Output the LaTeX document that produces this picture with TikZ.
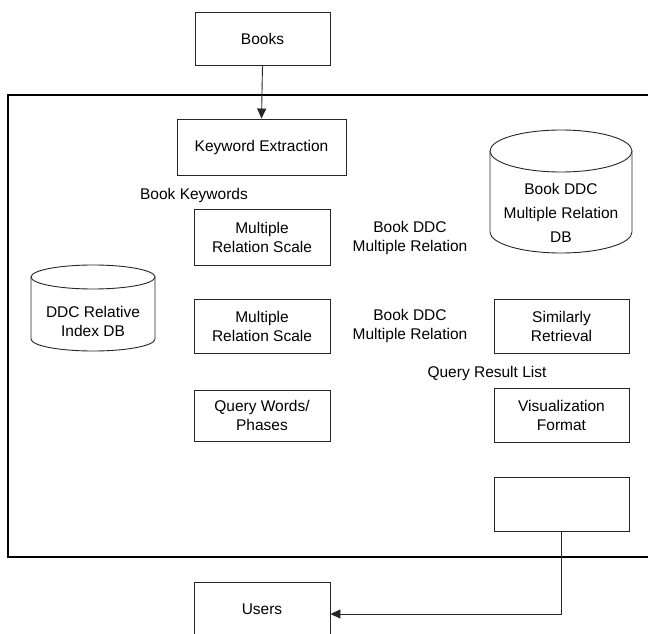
\documentclass[tikz,border=0pt]{standalone}
\usepackage{fontspec}
\setmainfont{Liberation Sans}
\usetikzlibrary{arrows.meta}
\begin{document}
\begin{tikzpicture}[x=1pt,y=1pt,
  txt/.style={font=\fontsize{15.5}{19}\selectfont, align=center, inner sep=0pt},
  box/.style={txt, draw=black!85, line width=0.9pt, fill=white},
  conn/.style={draw=black!85, line width=0.9pt, -{Triangle[length=10pt,width=9pt]}},
  cyl/.style={draw=black!85, line width=0.9pt, fill=white}]
\useasboundingbox (0,0) rectangle (648,633);
% outer frame
\draw[line width=2.2pt, black] (8,538) rectangle (662,76);
% boxes
\node[box, minimum width=135, minimum height=53] (books) at (262.5,594.5) {Books};
\node[box, minimum width=169, minimum height=56] (kw) at (261.5,486) {Keyword Extraction};
\node[txt] (bk) at (194,438) {Book Keywords};
\node[box, minimum width=136, minimum height=56] (mrs1) at (262,395.5) {Multiple\\Relation Scale};
\node[txt] (bddc1) at (410,395.5) {Book DDC\\Multiple Relation};
\node[box, minimum width=136, minimum height=54] (mrs2) at (262,307) {Multiple\\Relation Scale};
\node[txt] (bddc2) at (410,307) {Book DDC\\Multiple Relation};
\node[box, minimum width=135, minimum height=54] (sr) at (561.5,307) {Similarly\\Retrieval};
\node[txt] (qrl) at (487,260) {Query Result List};
\node[box, minimum width=136, minimum height=51] (qwp) at (262,217.5) {Query Words/\\Phases};
\node[box, minimum width=135, minimum height=54] (vf) at (561.5,218) {Visualization\\Format};
\node[box, minimum width=135, minimum height=54] (empty) at (561.5,129) {};
\node[box, minimum width=136, minimum height=54] (users) at (262,24) {Users};
% cylinder: Book DDC Multiple Relation DB
\draw[cyl] (490,482) -- (490,401) arc[start angle=180, end angle=360, x radius=71, y radius=21] -- (632,482);
\draw[cyl] (561,482) ellipse[x radius=71, y radius=21];
\node[txt, font=\fontsize{15.5}{24}\selectfont] (bdb) at (561,420) {Book DDC\\Multiple Relation\\DB};
% cylinder: DDC Relative Index DB
\draw[cyl] (31,356) -- (31,294) arc[start angle=180, end angle=360, x radius=62, y radius=12] -- (155,356);
\draw[cyl] (93,356) ellipse[x radius=62, y radius=12];
\node[txt] (ddb) at (93,311.5) {DDC Relative\\Index DB};
% connectors
\draw[conn] (books.south) -- (kw.north);
\draw[conn] (empty.south) |- ([yshift=-5pt]users.east);
\end{tikzpicture}
\end{document}
